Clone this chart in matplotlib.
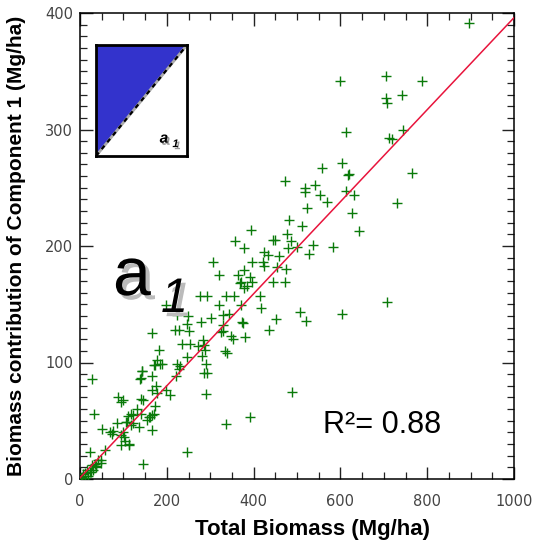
import numpy as np
from matplotlib import pyplot as plt
from matplotlib import patheffects as pe
from matplotlib.ticker import MultipleLocator

# total biomass (x) and component 1 contribution (y)
total_biomass = [897, 598, 704, 787, 743, 704, 707, 612, 745, 713, 720,
                 558, 604, 618, 620, 764, 472, 519, 519, 542, 553, 568, 614, 631, 730, 522, 626, 482, 511, 644,
                 393, 477, 445, 449, 356, 486, 499, 538, 584, 377, 479, 424, 433, 528, 458, 307, 396, 421, 424,
                 453, 474, 321, 364, 377, 392, 397, 372, 369, 378, 384, 445, 472, 707, 277, 292, 336, 354, 415,
                 320, 371, 417, 198, 224, 249, 329, 343, 301, 508, 603, 279, 373, 376, 451, 521, 246, 330, 220,
                 227, 250, 326, 329, 435, 166, 349, 352, 381, 234, 253, 283, 286, 273, 289, 181, 333, 338, 280,
                 178, 184, 171, 246, 223, 230, 227, 143, 140, 167, 221, 286, 293, 290, 28, 175, 167, 177, 198,
                 207, 488, 290, 88, 100, 140, 146, 94, 172, 170, 131, 123, 32, 161, 154, 108, 117, 86, 135, 51,
                 68, 74, 98, 101, 167, 336, 392, 94, 114, 57, 23, 246, 41, 49, 34, 146,
                 15, 23, 8, 2, 11, 18, 31, 5, 27, 36, 12,
                 111, 118, 107, 122, 114, 103, 94, 141, 160, 166, 76, 48, 38, 26, 188, 173, 142, 138]
component1 = [391, 342, 346, 342, 330, 327, 323, 298, 300, 293, 292,
              267, 271, 261, 262, 263, 256, 250, 246, 252, 244, 238, 247, 244, 237, 233, 228, 222, 217, 213,
              214, 210, 205, 205, 204, 204, 199, 201, 199, 198, 198, 195, 192, 193, 191, 186, 186, 186, 183,
              182, 180, 175, 175, 179, 173, 169, 169, 168, 164, 166, 169, 169, 152, 157, 157, 157, 157, 157,
              149, 149, 147, 149, 141, 140, 141, 142, 138, 143, 142, 135, 135, 134, 137, 136, 133, 132, 128,
              128, 127, 126, 127, 128, 125, 123, 120, 122, 116, 116, 119, 115, 114, 111, 111, 110, 108, 106,
              102, 99, 98, 105, 99, 97, 94, 93, 87, 88, 88, 91, 91, 99, 86, 80, 76, 74, 76,
              72, 75, 73, 70, 68, 69, 68, 66, 63, 56, 60, 55, 56, 53, 51, 49, 46, 48, 45, 43,
              40, 39, 40, 36, 42, 47, 53, 29, 30, 25, 23, 23, 16, 16, 13, 13,
              8, 6, 4, 1, 1, 3, 8, 2, 12, 10, 5,
              54, 56, 49, 48, 29, 33, 38, 56, 53, 55, 41, 14, 11, 6, 99, 98, 93, 86]

fit_slope = 0.395
fit_intercept = 1.0
r_squared = 0.88

plt.rcParams['font.family'] = ['Liberation Sans', 'DejaVu Sans']

fig = plt.figure(figsize=(5.33, 5.5), dpi=100)
W, H = 533.0, 550.0
ax = fig.add_axes([80 / W, 1 - 479 / H, 434 / W, 466 / H])

ax.scatter(total_biomass, component1, marker='+', s=45, color='#0a7a0a', linewidths=1.0, zorder=3)
fx = np.array([0, 1000])
ax.plot(fx, fit_slope * fx + fit_intercept, color='#e8143c', lw=1.1, zorder=4)

ax.set_xlim(0, 1000)
ax.set_ylim(0, 400)
ax.xaxis.set_major_locator(MultipleLocator(200))
ax.xaxis.set_minor_locator(MultipleLocator(50))
ax.yaxis.set_major_locator(MultipleLocator(100))
ax.yaxis.set_minor_locator(MultipleLocator(10))
ax.tick_params(which='both', direction='in', top=True, right=True, color='#222222')
ax.tick_params(which='major', length=9, width=1.0)
ax.tick_params(which='minor', length=5, width=0.9)
ax.tick_params(axis='x', pad=11, labelsize=10.5, labelcolor='#444444')
ax.tick_params(axis='y', pad=5, labelsize=10.5, labelcolor='#444444')
for lab in ax.get_xticklabels() + ax.get_yticklabels():
    lab.set_family('DejaVu Sans')
for s in ax.spines.values():
    s.set_linewidth(1.1)

ax.set_xlabel('Total Biomass (Mg/ha)', fontsize=16, fontweight='bold')
ax.xaxis.set_label_coords(0.535, -0.085)
ax.set_ylabel('Biomass contribution of Component 1 (Mg/ha)', fontsize=15, fontweight='bold')
ax.yaxis.set_label_coords(-0.125, 0.5)

fig.text(323 / W, 1 - 433 / H, 'R\u00b2= %.2f' % r_squared, fontsize=22, ha='left', va='baseline')

# big a1 label with drop shadow
shadow = [pe.SimplePatchShadow(offset=(3, -3), shadow_rgbFace='#bbbbbb', alpha=1.0), pe.Normal()]
fig.text(113 / W, 1 - 295 / H, 'a', fontsize=49, ha='left', va='baseline',
         path_effects=shadow)
fig.text(161 / W, 1 - 312 / H, '1', fontsize=35, style='italic', ha='left', va='baseline',
         path_effects=shadow)

# inset icon
axi = fig.add_axes([96 / W, 1 - 156 / H, 91 / W, 111 / H])
axi.fill([0, 0, 1], [0, 1, 1], color='#3333cc', lw=0)
axi.plot([0, 1], [0, 1], color='#aaaaaa', lw=2.0)
axi.plot([0, 1], [0, 1], color='black', lw=1.6, ls=(0, (2, 2)))
axi.set_xlim(0, 1)
axi.set_ylim(0, 1)
axi.set_xticks([])
axi.set_yticks([])
for s in axi.spines.values():
    s.set_linewidth(2.0)
small_shadow = [pe.SimplePatchShadow(offset=(1.5, -1.5), shadow_rgbFace='#999999', alpha=1.0), pe.Normal()]
axi.text(0.70, 0.12, 'a', fontsize=11, style='italic', weight='bold', path_effects=small_shadow)
axi.text(0.84, 0.08, '1', fontsize=8, style='italic', weight='bold', path_effects=small_shadow)

fig.savefig('out.png', dpi=100)
